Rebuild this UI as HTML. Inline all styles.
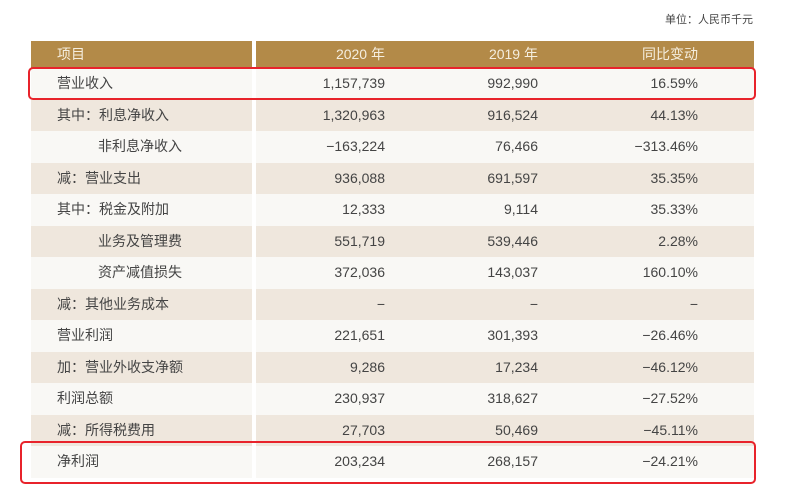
<!DOCTYPE html>
<html><head><meta charset="utf-8"><style>
body{margin:0;width:789px;height:497px;background:#fff;position:relative;overflow:hidden;font-family:"Liberation Sans","Noto Sans CJK SC",sans-serif;color:#444}
.unit{position:absolute;right:36px;top:11px;font-size:11px;color:#444}
.row{position:absolute;left:31px;width:723px;height:31.5px;font-size:14px;line-height:31.5px}
.row span{position:absolute;white-space:nowrap}
.l{left:26px}.i{left:67px}
.c2{right:369px}.c3{right:216px}.c4{right:56px}
.hd{background:#b38a48;color:#f5eedf;height:27px;line-height:27px;top:41px;font-size:14px}
.a{background:#f9f8f5}.b{background:#efe7dd}
.div{position:absolute;left:252px;top:41px;width:4px;height:437px;background:#fff}
.box{position:absolute;border:2px solid #e8232b;border-radius:5px}
</style></head><body>
<div class="unit">单位：人民币千元</div>
<div class="row hd"><span class="l">项目</span><span class="c2">2020 年</span><span class="c3">2019 年</span><span class="c4">同比变动</span></div>
<div class="row a" style="top:68px"><span class="l">营业收入</span><span class="c2">1,157,739</span><span class="c3">992,990</span><span class="c4">16.59%</span></div>
<div class="row b" style="top:99.5px"><span class="l">其中：利息净收入</span><span class="c2">1,320,963</span><span class="c3">916,524</span><span class="c4">44.13%</span></div>
<div class="row a" style="top:131px"><span class="i">非利息净收入</span><span class="c2">−163,224</span><span class="c3">76,466</span><span class="c4">−313.46%</span></div>
<div class="row b" style="top:162.5px"><span class="l">减：营业支出</span><span class="c2">936,088</span><span class="c3">691,597</span><span class="c4">35.35%</span></div>
<div class="row a" style="top:194px"><span class="l">其中：税金及附加</span><span class="c2">12,333</span><span class="c3">9,114</span><span class="c4">35.33%</span></div>
<div class="row b" style="top:225.5px"><span class="i">业务及管理费</span><span class="c2">551,719</span><span class="c3">539,446</span><span class="c4">2.28%</span></div>
<div class="row a" style="top:257px"><span class="i">资产减值损失</span><span class="c2">372,036</span><span class="c3">143,037</span><span class="c4">160.10%</span></div>
<div class="row b" style="top:288.5px"><span class="l">减：其他业务成本</span><span class="c2">−</span><span class="c3">−</span><span class="c4">−</span></div>
<div class="row a" style="top:320px"><span class="l">营业利润</span><span class="c2">221,651</span><span class="c3">301,393</span><span class="c4">−26.46%</span></div>
<div class="row b" style="top:351.5px"><span class="l">加：营业外收支净额</span><span class="c2">9,286</span><span class="c3">17,234</span><span class="c4">−46.12%</span></div>
<div class="row a" style="top:383px"><span class="l">利润总额</span><span class="c2">230,937</span><span class="c3">318,627</span><span class="c4">−27.52%</span></div>
<div class="row b" style="top:414.5px"><span class="l">减：所得税费用</span><span class="c2">27,703</span><span class="c3">50,469</span><span class="c4">−45.11%</span></div>
<div class="row a" style="top:446px"><span class="l">净利润</span><span class="c2">203,234</span><span class="c3">268,157</span><span class="c4">−24.21%</span></div>
<div class="div"></div>
<div class="box" style="left:28px;top:67px;width:724px;height:29px"></div>
<div class="box" style="left:20px;top:441px;width:732px;height:39px"></div>
</body></html>
